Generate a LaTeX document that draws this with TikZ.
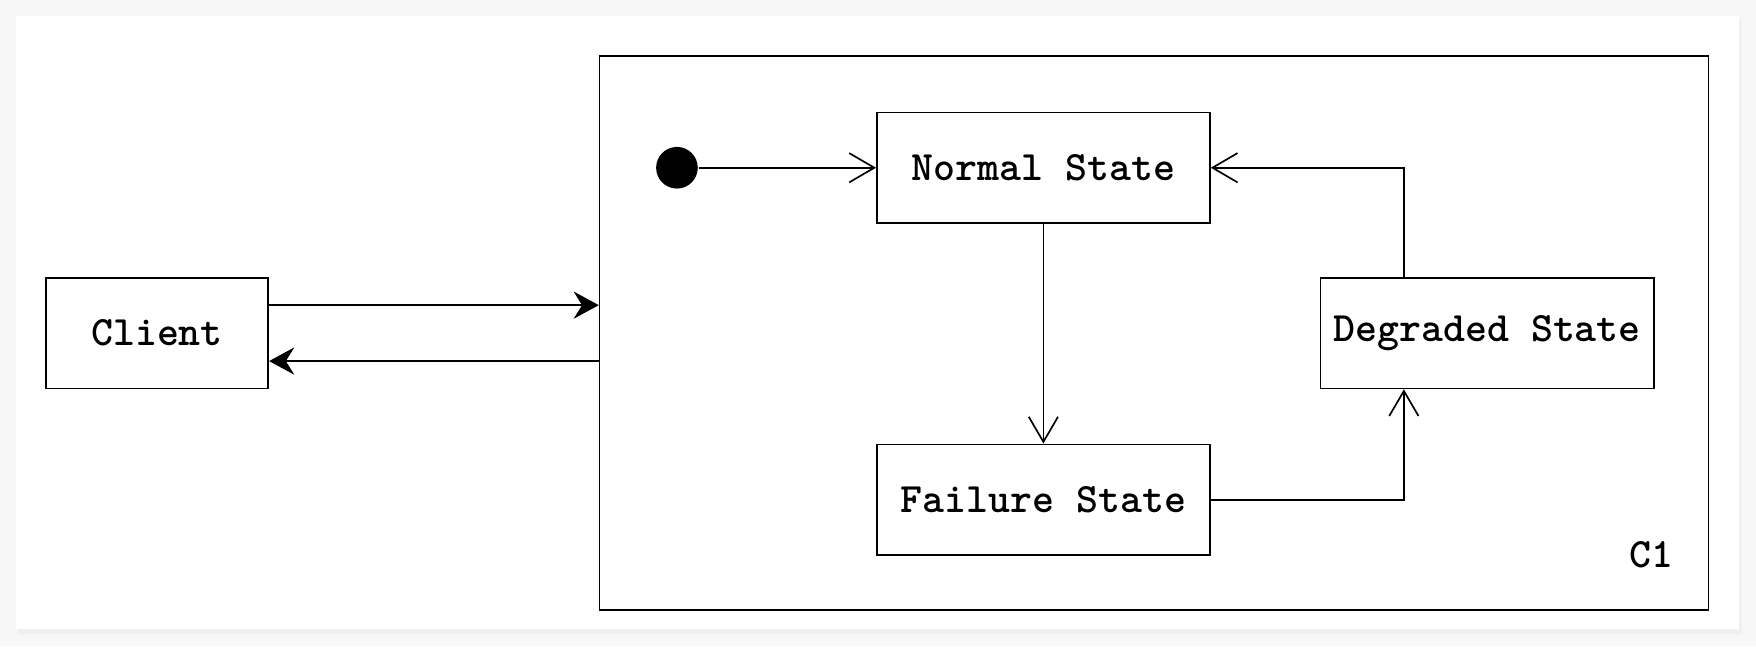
\documentclass[tikz,border=0pt]{standalone}
\usepackage{tikz}
\usetikzlibrary{arrows.meta,positioning}
\tikzset{>={Stealth[length=6pt,width=6.5pt,inset=2pt]}}
\tikzset{font=\normalsize\ttfamily\bfseries, line width=0.8pt}
\tikzset{statebox/.style={draw, rectangle, minimum width=2.8cm,
    minimum height=0.93cm, inner xsep=3pt},
  trans/.style={-{Straight Barb[length=6pt,width=7pt]}}}

\begin{document}
\begin{tikzpicture}
          % card and background
          \fill[gray!6] (0,0) rectangle (14.76,-5.43);
          \useasboundingbox (0,0) rectangle (14.76,-5.43);
          \fill[gray!12] (0.15,-0.17) rectangle (14.64,-5.33);
          \fill[white] (0.132,-0.132) rectangle (14.62,-5.29);
          % component and client
          \node[draw, rectangle, minimum width=9.32cm, minimum height=4.66cm] (comp) at (9.70,-2.80) {};
          \node[anchor=center] (label) at (13.88,-4.66) {C1};
          \node[statebox, minimum width=1.87cm] (client) at (1.32,-2.80) {Client};
          \draw[->] ([yshift=0.235cm]client.east) -- ([yshift=0.235cm]client.east -| comp.west);
          \draw[<-] ([yshift=-0.235cm]client.east) -- ([yshift=-0.235cm]client.east -| comp.west);
          % states
          \node[circle, fill=black, inner sep=0pt, minimum size=0.35cm] (init) at (5.69,-1.41) {};
          \node[statebox] (normal) at (8.77,-1.41) {Normal State};
          \node[statebox] (failure) at (8.77,-4.20) {Failure State};
          \node[statebox] (degraded) at (12.50,-2.80) {Degraded State};
          \coordinate (degin) at ([xshift=-0.70cm]degraded.south);
          \coordinate (degout) at ([xshift=-0.70cm]degraded.north);
          \draw[trans] (init) -- (normal);
          \draw[trans] (normal) -- (failure);
          \draw[trans] (failure) -| (degin);
          \draw[trans] (degout) |- (normal);
        \end{tikzpicture}
\end{document}
